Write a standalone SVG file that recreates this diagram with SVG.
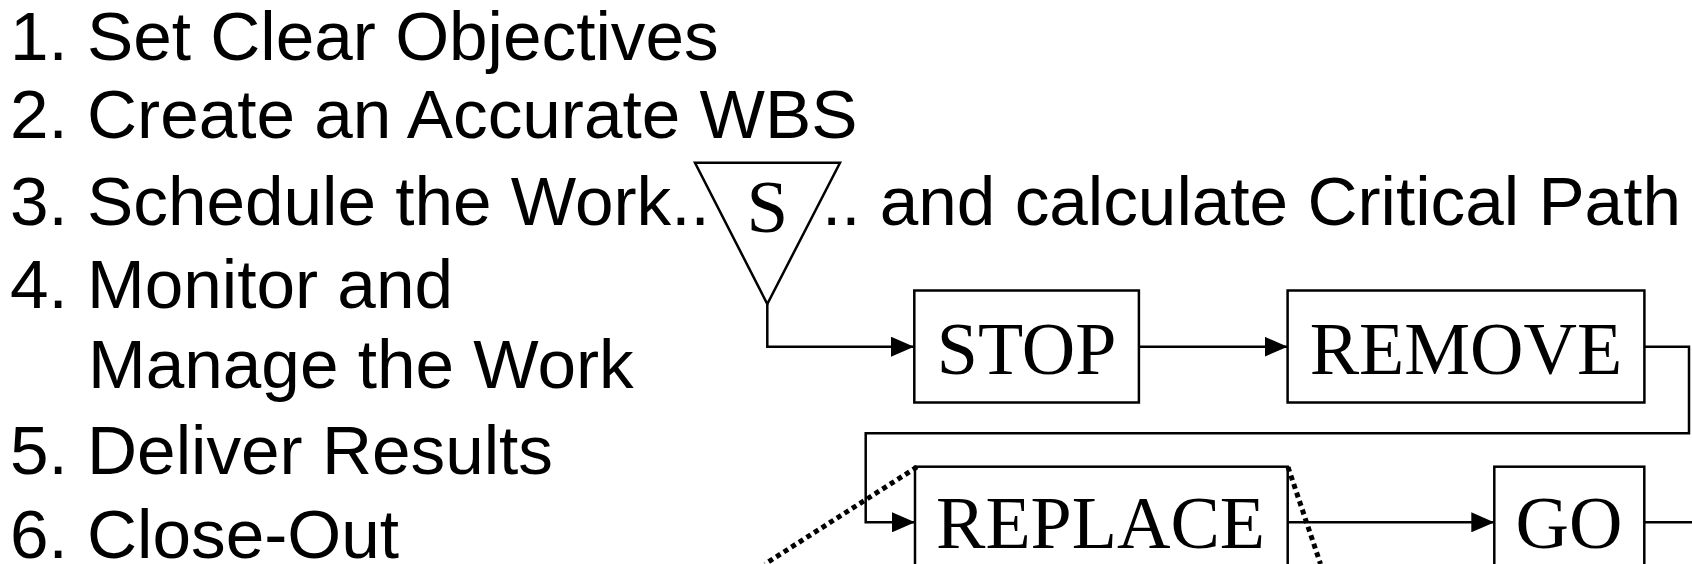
<svg xmlns="http://www.w3.org/2000/svg" width="1692" height="564" viewBox="0 0 1692 564">
<style>
.list{font-family:"Liberation Sans",Arial,sans-serif;font-size:69.3px;fill:#000}
.lbl{font-family:"Liberation Serif","Times New Roman",serif;font-size:74px;fill:#000;text-anchor:middle}
.box{fill:#fff;stroke:#000;stroke-width:2.5}
.con{fill:none;stroke:#000;stroke-width:2.5}
.dot{fill:none;stroke:#000;stroke-width:5;stroke-dasharray:5 4}
</style>
<defs>
<marker id="arr" markerUnits="userSpaceOnUse" markerWidth="23" markerHeight="20" refX="23" refY="10" orient="auto">
<path d="M0,0 L23,10 L0,20 Z" fill="#000"/>
</marker>
</defs>
<rect width="1692" height="564" fill="#fff"/>
<g id="list">
<text class="list" x="10" y="60">1. Set Clear Objectives</text>
<text class="list" x="10" y="137.7">2. Create an Accurate WBS</text>
<text class="list" x="10" y="225">3. Schedule the Work..</text>
<text class="list" x="822" y="225">.. and calculate Critical Path</text>
<text class="list" x="10" y="308.3">4. Monitor and</text>
<text class="list" x="88" y="388">Manage the Work</text>
<text class="list" x="10" y="474">5. Deliver Results</text>
<text class="list" x="10" y="558.3">6. Close-Out</text>
</g>
<g id="connectors">
<path class="con" d="M767.3,304 V346.7 H914" marker-end="url(#arr)"/>
<path class="con" d="M1139,346.7 H1287.6" marker-end="url(#arr)"/>
<path class="con" d="M1644.4,346.7 H1689 V433.3 H865.7 V522.3 H915" marker-end="url(#arr)"/>
<path class="con" d="M1287.7,522.3 H1494.3" marker-end="url(#arr)"/>
<path class="con" d="M1644.3,522.3 H1692"/>
</g>
<g id="node-S">
<polygon class="box" points="695,162.7 840,162.7 767.3,304"/>
<text class="lbl" x="767.3" y="232" style="font-size:75px">S</text>
</g>
<g id="node-STOP">
<rect class="box" x="914.3" y="290.5" width="224.6" height="112"/>
<text class="lbl" x="1026.6" y="374">STOP</text>
</g>
<g id="node-REMOVE">
<rect class="box" x="1287.6" y="290.5" width="356.8" height="112"/>
<text class="lbl" x="1466" y="374">REMOVE</text>
</g>
<g id="node-REPLACE">
<rect class="box" x="915" y="466.7" width="372.7" height="112"/>
<text class="lbl" x="1100.5" y="548.3">REPLACE</text>
</g>
<g id="node-GO">
<rect class="box" x="1494.3" y="466.7" width="150" height="112"/>
<text class="lbl" x="1569" y="548.3">GO</text>
</g>
<g id="callout">
<path class="dot" d="M917,467 L765,564"/>
<path class="dot" d="M1288,467 L1320.5,564"/>
</g>
</svg>
